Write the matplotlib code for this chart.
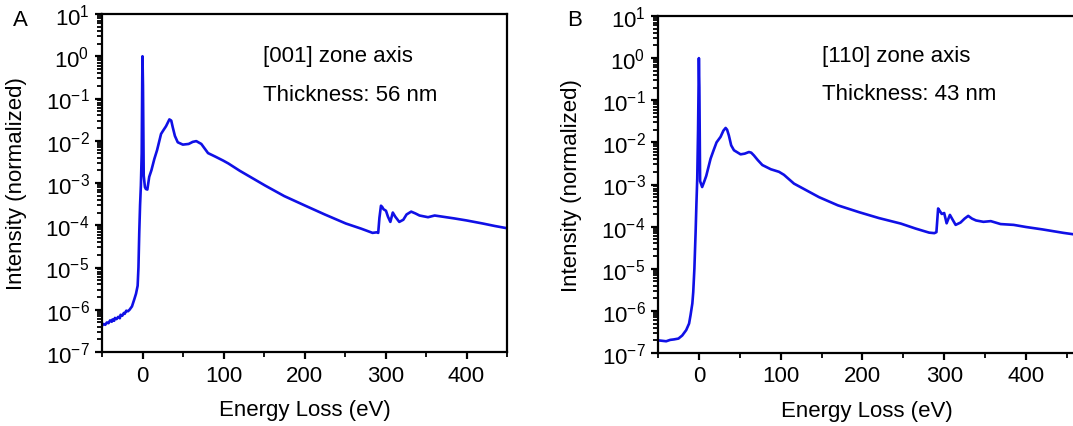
import numpy as np
import matplotlib
matplotlib.use("Agg")
import matplotlib.pyplot as plt
from matplotlib.ticker import FixedLocator, MultipleLocator, NullFormatter

plt.rcParams['font.family'] = ['Liberation Sans', 'DejaVu Sans']
plt.rcParams['mathtext.fontset'] = 'custom'
plt.rcParams['mathtext.rm'] = 'Liberation Sans'
plt.rcParams['mathtext.it'] = 'Liberation Sans'
plt.rcParams['mathtext.bf'] = 'Liberation Sans'

# ---- data ----
energy_a = [-50, -48, -46, -44, -42, -40, -38, -37, -35, -34, -32, -30, -28, -27, -25, -23, -22, -20, -18, -16, -13, -10, -8, -6, -5, -4, -3, -2, -1, -0.3, 0, 0.6, 1.5,
            3, 4.2, 6, 8.3, 11, 14.6, 18, 22.9, 26, 29, 33.2, 35.5, 37.3, 40, 43.5, 49.8, 57, 62, 66.4, 72.6, 80.9, 90, 99.5, 106,
            120, 151.4, 175, 201, 225, 251, 270, 284, 289, 291, 292.5, 294.4, 296, 297.5, 300.6, 303, 306, 309, 312, 317, 322,
            326, 331.7, 337, 342, 352.5, 360.7, 370, 385, 400, 420, 435, 450]
intensity_a = [4.2e-7, 4.6e-7, 4.4e-7, 5.0e-7, 4.8e-7, 5.6e-7, 5.2e-7, 5.9e-7, 5.5e-7, 6.4e-7, 6.0e-7, 6.8e-7, 6.3e-7, 7.6e-7, 7.2e-7, 8.4e-7, 8.0e-7, 9.5e-7, 9.2e-7, 1.0e-6, 1.2e-6, 1.8e-6, 2.4e-6,
               3.7e-6, 1.0e-5, 6.8e-5, 3.0e-4, 8.7e-4, 5e-3, 0.3, 1.0, 0.2, 1.5e-3,
               8.0e-4, 7.2e-4, 7.0e-4, 1.4e-3, 2.0e-3, 3.7e-3, 6.0e-3, 1.45e-2, 1.8e-2, 2.2e-2, 3.2e-2, 3.0e-2, 2.1e-2, 1.3e-2, 9.2e-3, 8.1e-3, 8.4e-3, 9.4e-3,
               9.8e-3, 8.4e-3, 5.1e-3, 4.2e-3, 3.4e-3, 2.9e-3,
               1.95e-3, 8.7e-4, 4.9e-4, 2.9e-4, 1.8e-4, 1.1e-4, 8.3e-5, 6.6e-5, 6.8e-5, 6.6e-5, 1.5e-4, 2.9e-4, 2.7e-4, 2.4e-4, 2.2e-4, 1.6e-4, 1.2e-4,
               2.0e-4, 1.6e-4, 1.2e-4, 1.35e-4,
               1.8e-4, 2.1e-4, 1.9e-4, 1.7e-4, 1.55e-4, 1.7e-4, 1.6e-4, 1.45e-4, 1.3e-4, 1.1e-4, 9.6e-5, 8.5e-5]

energy_b = [-50, -40, -35, -30.6, -25, -20.4, -15.5, -12, -10.2, -8, -6.9, -5.5, -4, -3, -2, -1, -0.3, 0, 0.6, 1.5,
            4, 6, 9, 14.3, 18, 21.6, 26.5, 30, 32.7, 34.5, 36.7, 39.5, 42.9, 51, 56, 61.2, 64, 67.3, 72, 77.6, 88, 98, 104,
            116.3, 147, 170, 196, 220, 247, 265, 281.6, 288, 290.5, 292.6, 295, 297, 300, 303, 307, 310, 314, 320, 325, 329.4,
            334, 339, 348, 357, 369, 385, 400, 420, 446, 460]
intensity_b = [2.0e-7, 1.9e-7, 2.05e-7, 2.1e-7, 2.2e-7, 2.6e-7, 3.5e-7, 5.0e-7, 7.9e-7, 1.5e-6, 2.8e-6, 1.0e-5, 7.4e-5, 3.5e-4, 1.4e-3, 2e-2, 0.3, 1.0, 0.2, 1.2e-3,
               8.7e-4, 1.1e-3, 1.6e-3, 4.1e-3, 6.5e-3, 1.0e-2, 1.35e-2, 1.9e-2, 2.2e-2, 2.0e-2, 1.45e-2, 8.5e-3, 6.5e-3, 5.2e-3, 5.4e-3, 5.9e-3,
               5.7e-3, 4.9e-3, 3.8e-3, 2.9e-3, 2.3e-3, 2.0e-3, 1.7e-3,
               1.05e-3, 5.0e-4, 3.2e-4, 2.2e-4, 1.6e-4, 1.18e-4, 9.0e-5, 7.2e-5, 7.0e-5, 7.4e-5, 2.7e-4, 2.3e-4, 2.0e-4, 2.1e-4, 1.2e-4, 1.9e-4, 1.5e-4,
               1.1e-4, 1.25e-4, 1.55e-4, 1.8e-4,
               1.55e-4, 1.4e-4, 1.3e-4, 1.35e-4, 1.15e-4, 1.1e-4, 9.8e-5, 8.6e-5, 7.1e-5, 6.5e-5]

zone_labels = ["[001] zone axis", "[110] zone axis"]
thickness_labels = ["Thickness: 56 nm", "Thickness: 43 nm"]
panel_letters = ["A", "B"]
x_ticks = [0, 100, 200, 300, 400]
y_exponents = [1, 0, -1, -2, -3, -4, -5, -6, -7]

LINE_COLOR = '#1010e6'
FS = 16

fig = plt.figure(figsize=(10.73, 4.27), dpi=100)
W, H = 1073, 427

def px_axes(l, r, t, b):
    return fig.add_axes([l / W, 1 - b / H, (r - l) / W, (b - t) / H])

ax_a = px_axes(102, 507, 15, 353)
ax_b = px_axes(658, 1075, 17, 354)

panels = [
    (ax_a, energy_a, intensity_a, (-50, 450), -0.185, 0.397, 0.876, 0.763, (20, 20)),
    (ax_b, energy_b, intensity_b, (-50, 460), -0.182, 0.3925, 0.882, 0.769, (575, 20)),
]

minor_y = [m * 10.0 ** k for k in range(-7, 1) for m in range(2, 10)]

for i, (ax, e, inten, xl, ylab_x, tx, ty1, ty2, letter_pos) in enumerate(panels):
    ax.plot(e, inten, color=LINE_COLOR, lw=1.9, solid_joinstyle='round')
    ax.set_yscale('log')
    ax.set_ylim(1e-7, 1e1)
    ax.set_xlim(*xl)
    ax.yaxis.set_major_locator(FixedLocator([10.0 ** k for k in y_exponents]))
    ax.set_yticklabels([r'$\mathregular{10^{%d}}$' % k for k in y_exponents])
    ax.yaxis.set_minor_locator(FixedLocator(minor_y))
    ax.yaxis.set_minor_formatter(NullFormatter())
    ax.xaxis.set_major_locator(FixedLocator(x_ticks))
    ax.xaxis.set_minor_locator(MultipleLocator(50))
    ax.tick_params(axis='both', which='major', direction='out', length=5, width=1.6,
                   labelsize=16, pad=4, top=False, right=False)
    ax.tick_params(axis='both', which='minor', direction='out', length=3.5, width=1.3,
                   top=False, right=False)
    for s in ax.spines.values():
        s.set_linewidth(1.6)
    ax.set_xlabel('Energy Loss (eV)', fontsize=FS)
    ax.set_ylabel('Intensity (normalized)', fontsize=FS)
    ax.yaxis.set_label_coords(ylab_x, 0.5)
    ax.xaxis.set_label_coords(0.5, -0.14)
    ax.text(tx, ty1, zone_labels[i], transform=ax.transAxes, fontsize=FS, va='center', ha='left')
    ax.text(tx, ty2, thickness_labels[i], transform=ax.transAxes, fontsize=FS, va='center', ha='left')
    fig.text(letter_pos[0] / W, 1 - letter_pos[1] / H, panel_letters[i], fontsize=FS,
             ha='center', va='center')

fig.savefig('out.png', dpi=100)
